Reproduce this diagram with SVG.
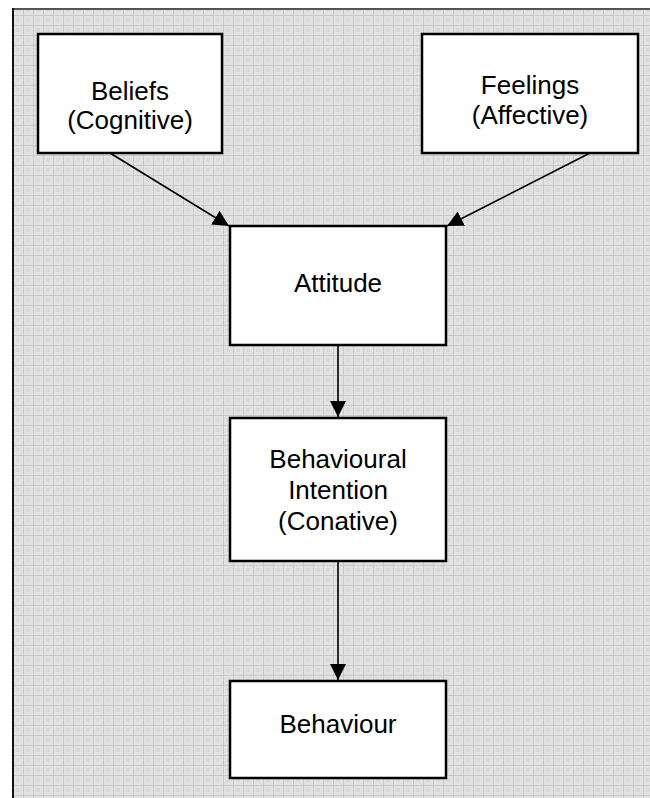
<svg xmlns="http://www.w3.org/2000/svg" width="650" height="798" viewBox="0 0 650 798">
  <style>
    .box { fill: #ffffff; stroke: #000000; stroke-width: 2.5; }
    .label { font-family: "Liberation Sans", Arial, sans-serif; font-size: 26px; fill: #000000; text-anchor: middle; }
    .link { stroke: #000000; stroke-width: 1.6; fill: none; marker-end: url(#arrow); }
  </style>
  <defs>
    <pattern id="grid" x="3" y="5" width="10" height="10" patternUnits="userSpaceOnUse">
      <rect width="10" height="10" fill="#e2e2e2"/>
      <rect x="3" y="3" width="4" height="4" fill="#dadada"/>
      <path d="M0 0.5 H10 M0.5 0 V10" stroke="#c9c9c9" stroke-width="1"/>
    </pattern>
    <marker id="arrow" viewBox="0 0 10 10" refX="10" refY="5" markerWidth="10" markerHeight="10" markerUnits="strokeWidth" orient="auto">
      <path d="M0 0 L10 5 L0 10 Z" fill="#000000"/>
    </marker>
  </defs>

  <!-- page background and frame -->
  <rect x="0" y="0" width="650" height="798" fill="#ffffff"/>
  <rect x="13" y="9" width="640" height="792" fill="url(#grid)"/>
  <line x1="12" y1="9" x2="650" y2="9" stroke="#555555" stroke-width="2"/>
  <line x1="13" y1="8" x2="13" y2="798" stroke="#111111" stroke-width="2"/>

  <!-- connectors -->
  <g id="connectors">
    <line class="link" x1="110" y1="153" x2="229" y2="226"/>
    <line class="link" x1="590" y1="153" x2="447" y2="226"/>
    <line class="link" x1="338" y1="345" x2="338" y2="417"/>
    <line class="link" x1="338" y1="561" x2="338" y2="680"/>
  </g>

  <g id="beliefs">
    <rect class="box" x="38" y="34" width="184" height="119"/>
    <text class="label" x="130" y="100">Beliefs</text>
    <text class="label" x="130" y="129">(Cognitive)</text>
  </g>

  <g id="feelings">
    <rect class="box" x="422" y="34" width="216" height="119"/>
    <text class="label" x="530" y="94">Feelings</text>
    <text class="label" x="530" y="124">(Affective)</text>
  </g>

  <g id="attitude">
    <rect class="box" x="230" y="226" width="216" height="119"/>
    <text class="label" x="338" y="292">Attitude</text>
  </g>

  <g id="intention">
    <rect class="box" x="230" y="418" width="216" height="143"/>
    <text class="label" x="338" y="468">Behavioural</text>
    <text class="label" x="338" y="499">Intention</text>
    <text class="label" x="338" y="530">(Conative)</text>
  </g>

  <g id="behaviour">
    <rect class="box" x="230" y="681" width="216" height="97"/>
    <text class="label" x="338" y="733">Behaviour</text>
  </g>
</svg>
